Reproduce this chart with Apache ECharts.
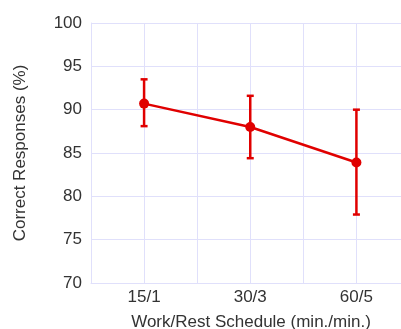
<!DOCTYPE html>
<html><head><meta charset="utf-8">
<script src="https://cdn.jsdelivr.net/npm/echarts@6/dist/echarts.min.js"></script>
<style>html,body{margin:0;padding:0;background:#fff}#c{width:401px;height:329px}</style>
</head><body><div id="c"></div>
<script>
var categories = ['15/1', '30/3', '60/5'];
var means = [90.7, 88.0, 83.9];
var upper = [93.5, 91.6, 90.0];
var lower = [88.1, 84.4, 77.9];
var yTicks = [70, 75, 80, 85, 90, 95, 100];

var RED = '#e00000';
var GRID = '#e0e0fb';
var TXT = '#333';
var FONT = 'Liberation Sans, Arial';
var lineData = means.map(function (m, i) { return [i + 1, m]; });
var errData = means.map(function (m, i) { return [i + 1, lower[i], upper[i]]; });

var chart = echarts.init(document.getElementById('c'), null, {renderer: 'canvas'});
chart.setOption({
  animation: false,
  grid: {left: 91, right: 0, top: 23, bottom: 46, containLabel: false, outerBoundsMode: 'none'},
  xAxis: {
    type: 'value', min: 0.5, max: 3.42, interval: 0.5,
    axisLine: {show: true, lineStyle: {color: GRID, width: 1}},
    axisTick: {show: false},
    splitLine: {show: true, lineStyle: {color: GRID, width: 1}},
    axisLabel: {
      color: TXT, fontSize: 17, fontFamily: FONT, margin: 6,
      showMinLabel: false, showMaxLabel: false,
      formatter: function (v) { return (Math.abs(v - Math.round(v)) < 1e-6 && v >= 1 && v <= 3) ? categories[Math.round(v) - 1] : ''; }
    },
    name: 'Work/Rest Schedule (min./min.)', nameLocation: 'middle', nameGap: 31,
    nameTextStyle: {color: TXT, fontSize: 17, fontFamily: FONT, padding: [0, 0, 0, 10]}
  },
  yAxis: {
    type: 'value', min: yTicks[0], max: yTicks[yTicks.length - 1], interval: 5,
    axisLine: {show: true, lineStyle: {color: GRID, width: 1}},
    axisTick: {show: false},
    splitLine: {show: true, lineStyle: {color: GRID, width: 1}},
    axisLabel: {color: TXT, fontSize: 17, fontFamily: FONT, margin: 9},
    name: 'Correct Responses (%)', nameLocation: 'middle', nameGap: 62,
    nameTextStyle: {color: TXT, fontSize: 17, fontFamily: FONT}
  },
  series: [
    {
      type: 'custom',
      data: errData,
      renderItem: function (params, api) {
        var x = api.value(0);
        var lo = api.coord([x, api.value(1)]);
        var hi = api.coord([x, api.value(2)]);
        var hw = 3.5;
        var st = {stroke: RED, lineWidth: 2.5};
        return {type: 'group', children: [
          {type: 'line', shape: {x1: lo[0], y1: lo[1], x2: hi[0], y2: hi[1]}, style: st},
          {type: 'line', shape: {x1: lo[0] - hw, y1: lo[1], x2: lo[0] + hw, y2: lo[1]}, style: st},
          {type: 'line', shape: {x1: hi[0] - hw, y1: hi[1], x2: hi[0] + hw, y2: hi[1]}, style: st}
        ]};
      },
      z: 2
    },
    {
      type: 'line',
      data: lineData,
      symbol: 'circle', symbolSize: 10,
      lineStyle: {color: RED, width: 2.5},
      itemStyle: {color: RED},
      z: 3
    }
  ]
});
</script></body></html>
